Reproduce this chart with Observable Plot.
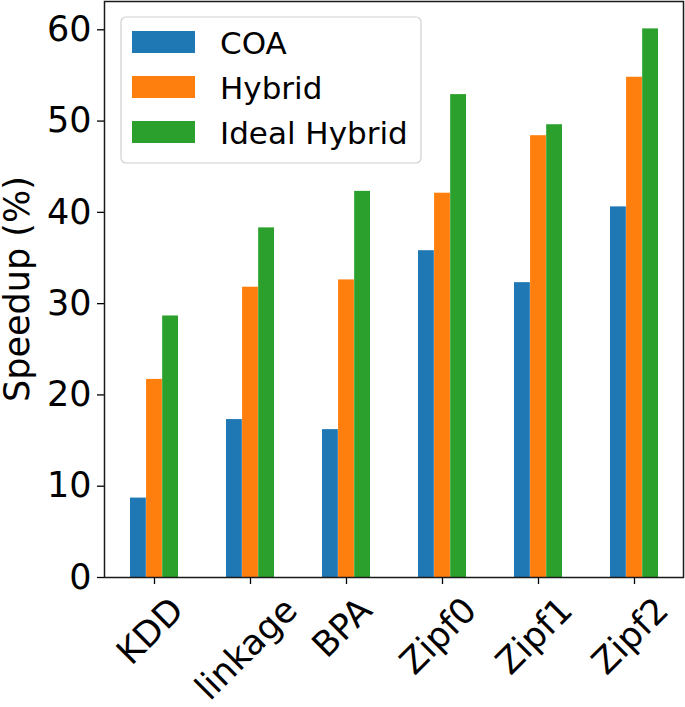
<!DOCTYPE html>
<html>
<head>
<meta charset="utf-8">
<script src="https://cdn.jsdelivr.net/npm/d3@7"></script>
<script src="https://cdn.jsdelivr.net/npm/@observablehq/plot@0.6"></script>
<style>
  html, body { margin: 0; padding: 0; background: #fff; }
  #chart svg { display: block; }
</style>
</head>
<body>
<div id="chart"></div>
<script>
const categories = ["KDD", "linkage", "BPA", "Zipf0", "Zipf1", "Zipf2"];
const seriesNames = ["COA", "Hybrid", "Ideal Hybrid"];
const coa = [8.7, 17.3, 16.2, 35.8, 32.3, 40.6];
const hybrid = [21.7, 31.8, 32.6, 42.1, 48.4, 54.8];
const idealHybrid = [28.65, 38.3, 42.3, 52.9, 49.6, 60.1];
const seriesColors = ["#1f77b4", "#ff7f0e", "#2ca02c"];
const yTicks = [0, 10, 20, 30, 40, 50, 60];
const yLabel = "Speedup (%)";

const seriesValues = [coa, hybrid, idealHybrid];
const W = 685, H = 707;
const mL = 104, mR = 2, mT = 1, mB = 130;
const FONT = "DejaVu Sans";
const FS = 35;

// measure text widths
const ctx = document.createElement("canvas").getContext("2d");
ctx.font = `${FS}px "${FONT}"`;

const step = (W - mL - mR) / categories.length;
const bw = step * 0.5;
const barW = bw / 3;

const marks = [];
seriesNames.forEach((s, i) => {
  const data = categories.map((c, j) => ({category: c, value: seriesValues[i][j]}));
  marks.push(Plot.barY(data, {
    x: "category", y: "value", fill: seriesColors[i],
    insetLeft: i * barW, insetRight: (2 - i) * barW
  }));
});
marks.push(Plot.axisY({ticks: yTicks, tickSize: 7, tickPadding: 6, fontSize: FS, label: null, fill: "#000", stroke: "#000", strokeWidth: 1.3}));
marks.push(Plot.axisX({tickSize: 7, tickFormat: () => "", label: null, stroke: "#000", strokeWidth: 1.3}));
categories.forEach(c => {
  const w = ctx.measureText(c).width;
  const hgt = FS * 1.12;
  const half = (w + hgt) / (2 * Math.SQRT2);
  marks.push(Plot.text([c], {
    x: d => d, frameAnchor: "bottom", text: d => d,
    rotate: -45, textAnchor: "middle", lineAnchor: "middle",
    dy: 13 + half, dx: -4, fontSize: FS, fill: "#000"
  }));
});
marks.push(Plot.frame({stroke: "#1a1a1a", strokeWidth: 1.5}));

const plot = Plot.plot({
  width: W, height: H,
  marginLeft: mL, marginRight: mR, marginTop: mT, marginBottom: mB,
  style: {fontFamily: FONT, color: "#000", background: "#fff", overflow: "visible"},
  x: {domain: categories, paddingInner: 0.5, paddingOuter: 0.25, axis: null},
  y: {domain: [0, 63.1], axis: null},
  marks
});
document.getElementById("chart").appendChild(plot);

// y label and legend
const svg = d3.select(plot);
svg.append("text")
  .attr("transform", `translate(29, ${(mT + (H - mB)) / 2}) rotate(-90)`)
  .attr("text-anchor", "middle")
  .attr("font-family", FONT)
  .attr("font-size", FS)
  .attr("fill", "#000")
  .text(yLabel);

const lg = svg.append("g").attr("transform", `translate(${mL + 17}, ${mT + 16})`);
lg.append("rect")
  .attr("x", 0).attr("y", 0).attr("width", 300).attr("height", 146)
  .attr("rx", 5).attr("fill", "#fff").attr("fill-opacity", 0.8)
  .attr("stroke", "#d0d0d0").attr("stroke-width", 1.2);
seriesNames.forEach((s, i) => {
  lg.append("rect")
    .attr("x", 11).attr("y", 14 + i * 45).attr("width", 63).attr("height", 22)
    .attr("fill", seriesColors[i]);
  lg.append("text")
    .attr("x", 99).attr("y", 36.5 + i * 45)
    .attr("text-anchor", "start")
    .attr("font-family", FONT).attr("font-size", 31).attr("fill", "#000")
    .text(s);
});
</script>
</body>
</html>
